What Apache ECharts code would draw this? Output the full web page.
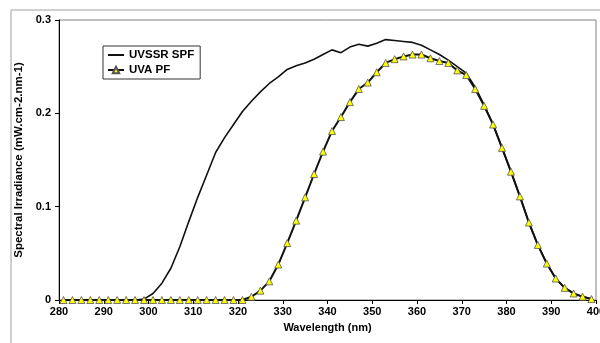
<!DOCTYPE html>
<html>
<head>
<meta charset="utf-8">
<script src="https://cdn.jsdelivr.net/npm/echarts@6/dist/echarts.min.js"></script>
<style>
  html, body { margin: 0; padding: 0; background: #fff; }
  #chart { width: 600px; height: 343px; }
</style>
</head>
<body>
<div id="chart"></div>
<script>
// wavelength (nm) of each sample
const wavelength = [
  281, 283, 285, 287, 289, 291, 293, 295, 297, 299,
  301, 303, 305, 307, 309, 311, 313, 315, 317, 319,
  321, 323, 325, 327, 329, 331, 333, 335, 337, 339,
  341, 343, 345, 347, 349, 351, 353, 355, 357, 359,
  361, 363, 365, 367, 369, 371, 373, 375, 377, 379,
  381, 383, 385, 387, 389, 391, 393, 395, 397, 399
]

const uvssrSpf = [
  0, 0, 0, 0, 0, 0, 0, 0, 0, 0.001,
  0.007, 0.018, 0.034, 0.057, 0.084, 0.110, 0.134, 0.158, 0.174, 0.188,
  0.202, 0.213, 0.223, 0.232, 0.239, 0.247, 0.251, 0.254, 0.258, 0.263,
  0.268, 0.265, 0.271, 0.274, 0.272, 0.275, 0.279, 0.278, 0.277, 0.276,
  0.273, 0.268, 0.263, 0.257, 0.250, 0.243, 0.228, 0.209, 0.188, 0.163,
  0.1375, 0.111, 0.083, 0.059, 0.039, 0.023, 0.013, 0.007, 0.0036, 0.001
]

const uvaPf = [
  0, 0, 0, 0, 0, 0, 0, 0, 0, 0,
  0, 0, 0, 0, 0, 0, 0, 0, 0, 0,
  0, 0.0035, 0.010, 0.020, 0.038, 0.061, 0.085, 0.110, 0.135, 0.159,
  0.181, 0.196, 0.212, 0.226, 0.233, 0.244, 0.254, 0.258, 0.261, 0.263,
  0.263, 0.259, 0.256, 0.254, 0.246, 0.241, 0.226, 0.208, 0.188, 0.163,
  0.1375, 0.111, 0.083, 0.059, 0.039, 0.023, 0.013, 0.007, 0.0036, 0.001
]

const xTicks = { min: 280, max: 400, step: 10 }
const yTicks = { min: 0, max: 0.3, step: 0.1 }

const pairs = (xs, ys) => xs.map((x, i) => [x, ys[i]])

const font = 'Liberation Sans, Arial, sans-serif'

var myChart = echarts.init(document.getElementById('chart'))

let option = {
  animation: false,
  backgroundColor: '#fff',
  graphic: [
    {
      // outer chart frame
      type: 'rect',
      shape: { x: 11, y: 10, width: 620, height: 360 },
      style: { fill: 'none', stroke: '#a0a0a0', lineWidth: 1 },
      z: -1
    }
  ],
  grid: {
    left: 59,
    top: 20,
    right: 4,
    bottom: 43,
    outerBoundsMode: 'none',
    containLabel: false,
    show: true,
    borderColor: '#808080',
    borderWidth: 1
  },
  legend: {
    left: 103,
    top: 46,
    orient: 'vertical',
    itemWidth: 16,
    itemHeight: 8,
    itemGap: 3,
    padding: [3, 6, 3, 4],
    borderColor: '#333',
    borderWidth: 1,
    backgroundColor: '#fff',
    textStyle: { fontFamily: font, fontWeight: 'bold', fontSize: 11.5, color: '#000' },
    data: [
      { name: 'UVSSR SPF', itemStyle: { opacity: 0 } },
      { name: 'UVA PF' }
    ]
  },
  xAxis: {
    type: 'value',
    min: xTicks.min,
    max: xTicks.max,
    interval: xTicks.step,
    name: 'Wavelength (nm)',
    nameLocation: 'middle',
    nameGap: 22,
    nameTextStyle: { fontFamily: font, fontWeight: 'bold', fontSize: 11, color: '#000' },
    axisLine: { lineStyle: { color: '#000', width: 1 } },
    axisTick: { length: 4, lineStyle: { color: '#000' } },
    axisLabel: { fontFamily: font, fontWeight: 'bold', fontSize: 11, color: '#000', margin: 6 },
    splitLine: { show: false }
  },
  yAxis: {
    type: 'value',
    min: yTicks.min,
    max: yTicks.max,
    interval: yTicks.step,
    name: 'Spectral Irradiance (mW.cm-2.nm-1)',
    nameLocation: 'middle',
    nameGap: 32,
    nameTextStyle: { fontFamily: font, fontWeight: 'bold', fontSize: 11.5, color: '#000' },
    axisLine: { show: true, lineStyle: { color: '#000', width: 1 } },
    axisTick: { show: true, length: 4, lineStyle: { color: '#000' } },
    axisLabel: { fontFamily: font, fontWeight: 'bold', fontSize: 11, color: '#000', margin: 8 },
    splitLine: { show: false }
  },
  series: [
    {
      name: 'UVSSR SPF',
      type: 'line',
      data: pairs(wavelength, uvssrSpf),
      showSymbol: false,
      symbol: 'none',
      lineStyle: { color: '#111', width: 1.6 },
      itemStyle: { color: '#111' },
      z: 2
    },
    {
      name: 'UVA PF',
      type: 'line',
      data: pairs(wavelength, uvaPf),
      symbol: 'triangle',
      symbolSize: 7,
      lineStyle: { color: '#111', width: 2 },
      itemStyle: { color: '#ffff00', borderColor: '#555', borderWidth: 0.8 },
      z: 3
    }
  ]
}

myChart.setOption(option)
</script>
</body>
</html>
